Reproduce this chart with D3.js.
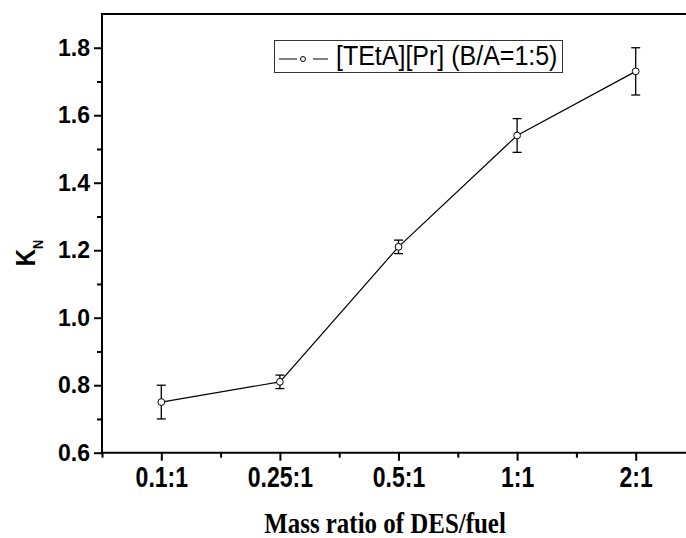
<!DOCTYPE html>
<html><head><meta charset="utf-8">
<script src="https://cdn.jsdelivr.net/npm/d3@7"></script>
<style>body{margin:0;background:#fff}svg{display:block}</style>
</head><body>
<svg id="c" width="686" height="538"></svg>
<script>
const categories = ["0.1:1", "0.25:1", "0.5:1", "1:1", "2:1"];
const values = [0.75, 0.81, 1.21, 1.54, 1.73];
const errors = [0.05, 0.02, 0.02, 0.05, 0.07];
const yTicks = [0.6, 0.8, 1.0, 1.2, 1.4, 1.6, 1.8];
const seriesName = "[TEtA][Pr] (B/A=1:5)";

const svg = d3.select("#c");
const L = 102, T = 14, B = 452.7, R = 695;
const x = d3.scaleLinear().domain([0.5, 5.5]).range([L, R]);
const y = d3.scaleLinear().domain([0.6, 1.9]).range([B, T]);
const sans = "'Liberation Sans', Arial, sans-serif";

// top border
svg.append("line").attr("x1", L).attr("x2", 686).attr("y1", T).attr("y2", T)
  .attr("stroke", "#000").attr("stroke-width", 2);

// left axis
const yAxis = d3.axisLeft(y).tickValues(yTicks).tickSize(8).tickFormat(d3.format(".1f"));
const gy = svg.append("g").attr("transform", `translate(${L},0)`).call(yAxis);
gy.select(".domain").remove();
gy.selectAll(".tick line").attr("stroke-width", 2);
gy.selectAll(".tick text").attr("font-family", sans).attr("font-weight", "bold")
  .attr("font-size", 23).attr("x", -12).attr("fill", "#000");
const yMinor = d3.axisLeft(y).tickValues(d3.range(0.7, 1.85, 0.2)).tickSize(5).tickFormat("");
const gym = svg.append("g").attr("transform", `translate(${L},0)`).call(yMinor);
gym.select(".domain").remove();
gym.selectAll(".tick line").attr("stroke-width", 2);
svg.append("line").attr("x1", L).attr("x2", L).attr("y1", T - 1).attr("y2", B + 1)
  .attr("stroke", "#000").attr("stroke-width", 2);

// bottom axis
const xAxis = d3.axisBottom(x).tickValues(d3.range(1, 6)).tickSize(8)
  .tickFormat((d, i) => categories[i]);
const gx = svg.append("g").attr("transform", `translate(0,${B})`).call(xAxis);
gx.select(".domain").remove();
gx.selectAll(".tick line").attr("stroke-width", 2);
gx.selectAll(".tick text").attr("font-family", sans).attr("font-weight", "bold")
  .attr("font-size", 23).attr("y", 0).attr("dy", 0)
  .attr("transform", "translate(0,34.5) scale(1,1.27)").attr("fill", "#000");
const xMinor = d3.axisBottom(x).tickValues(d3.range(0.5, 5.6, 1)).tickSize(5).tickFormat("");
const gxm = svg.append("g").attr("transform", `translate(0,${B})`).call(xMinor);
gxm.select(".domain").remove();
gxm.selectAll(".tick line").attr("stroke-width", 2);
svg.append("line").attr("x1", L - 1).attr("x2", 686).attr("y1", B).attr("y2", B)
  .attr("stroke", "#000").attr("stroke-width", 2);

// data
const pts = values.map((v, i) => ({ i: i + 1, v, e: errors[i] }));
svg.append("path").datum(pts)
  .attr("d", d3.line().x(d => x(d.i)).y(d => y(d.v)))
  .attr("fill", "none").attr("stroke", "#000").attr("stroke-width", 1.2);
const eb = svg.append("g").attr("stroke", "#000").attr("stroke-width", 1.3);
pts.forEach(d => {
  const cx = x(d.i);
  eb.append("line").attr("x1", cx).attr("x2", cx).attr("y1", y(d.v + d.e)).attr("y2", y(d.v - d.e));
  eb.append("line").attr("x1", cx - 4.5).attr("x2", cx + 4.5).attr("y1", y(d.v + d.e)).attr("y2", y(d.v + d.e));
  eb.append("line").attr("x1", cx - 4.5).attr("x2", cx + 4.5).attr("y1", y(d.v - d.e)).attr("y2", y(d.v - d.e));
});
svg.append("g").selectAll("circle").data(pts).join("circle")
  .attr("cx", d => x(d.i)).attr("cy", d => y(d.v)).attr("r", 3.4)
  .attr("fill", "#fff").attr("stroke", "#000").attr("stroke-width", 1);

// legend
const lg = svg.append("g");
lg.append("rect").attr("x", 274.5).attr("y", 40.5).attr("width", 288).attr("height", 32)
  .attr("fill", "#fff").attr("stroke", "#333").attr("stroke-width", 1);
lg.append("line").attr("x1", 279).attr("x2", 297).attr("y1", 59).attr("y2", 59).attr("stroke", "#000");
lg.append("line").attr("x1", 313).attr("x2", 328).attr("y1", 59).attr("y2", 59).attr("stroke", "#000");
lg.append("circle").attr("cx", 303).attr("cy", 59).attr("r", 2.5).attr("fill", "#fff").attr("stroke", "#000");
lg.append("text").attr("transform", "translate(336,65) scale(1,1.08)").attr("font-family", sans).attr("font-size", 25)
  .attr("fill", "#000").text(seriesName);

// axis titles
svg.append("text").attr("transform", "translate(385,533) scale(0.86,1)")
  .attr("text-anchor", "middle").attr("font-family", "'Liberation Serif','Times New Roman',serif")
  .attr("font-weight", "bold").attr("font-size", 29).attr("fill", "#000")
  .text("Mass ratio of DES/fuel");
const yt = svg.append("text").attr("transform", "translate(35,253) rotate(-90) scale(0.85,1)")
  .attr("text-anchor", "middle").attr("font-family", sans).attr("font-weight", "bold")
  .attr("font-size", 28).attr("fill", "#000");
yt.append("tspan").text("K");
yt.append("tspan").attr("font-size", 15).attr("dy", 8).text("N");
</script>
</body></html>
